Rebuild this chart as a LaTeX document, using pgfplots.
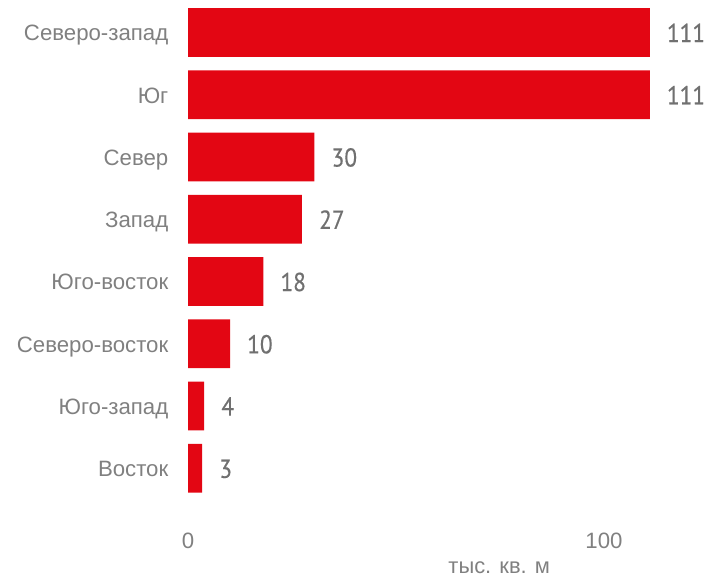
\documentclass[border=0pt]{standalone}
\usepackage{graphicx}
\usepackage{pgfplots}
\pgfplotsset{compat=1.18}
\usepackage{fontspec}
\setmainfont{Liberation Sans}
\newfontfamily\valfont[FakeBold=0.5]{PT Sans}
\definecolor{barred}{HTML}{E30613}
\definecolor{txtgray}{HTML}{808080}
\definecolor{valgray}{HTML}{707070}
\begin{document}
\begin{tikzpicture}
\path[use as bounding box] (0,0) rectangle (711bp,-578bp);
\begin{axis}[
 at={(188bp,-1.37bp)}, anchor=north west,
 scale only axis, width=461.76bp, height=498.1bp,
 xmin=0, xmax=111, ymin=-0.5, ymax=7.5,
 enlargelimits=false,
 xbar, bar width=48.7bp,
 axis line style={draw=none},
 major tick length=0pt,
 xtick={0,100}, ytick={0,...,7},
 yticklabels={Восток,Юго-запад,Северо-восток,Юго-восток,Запад,Север,Юг,Северо-запад},
 /pgf/number format/assume math mode=true,
 ticklabel style={font=\fontsize{22.3}{26}\selectfont, text=txtgray, inner sep=0pt},
 xticklabel style={anchor=base, yshift=-48.8bp},
 yticklabel style={anchor=base east, xshift=-19.5bp, yshift=-8.3bp},
 xlabel={тыс. кв. м},
 xlabel style={at={(axis description cs:0.674,0)}, anchor=base, yshift=-74bp, inner sep=0pt, font=\fontsize{22}{26}\selectfont, text=txtgray},
 point meta=explicit symbolic,
 nodes near coords={\scalebox{0.9}[1]{\pgfplotspointmeta}},
 nodes near coords style={anchor=base west, xshift=17bp, yshift=-9.5bp, inner sep=0pt, font=\valfont\fontsize{26}{30}\selectfont, text=valgray},
 clip=false,
]
\addplot[fill=barred, draw=none] coordinates {
 (3.4,0) [3]
 (3.9,1) [4]
 (10.1,2) [10]
 (18.1,3) [18]
 (27.4,4) [27]
 (30.4,5) [30]
 (111,6) [111]
 (111,7) [111]
};
\end{axis}
\end{tikzpicture}
\end{document}
